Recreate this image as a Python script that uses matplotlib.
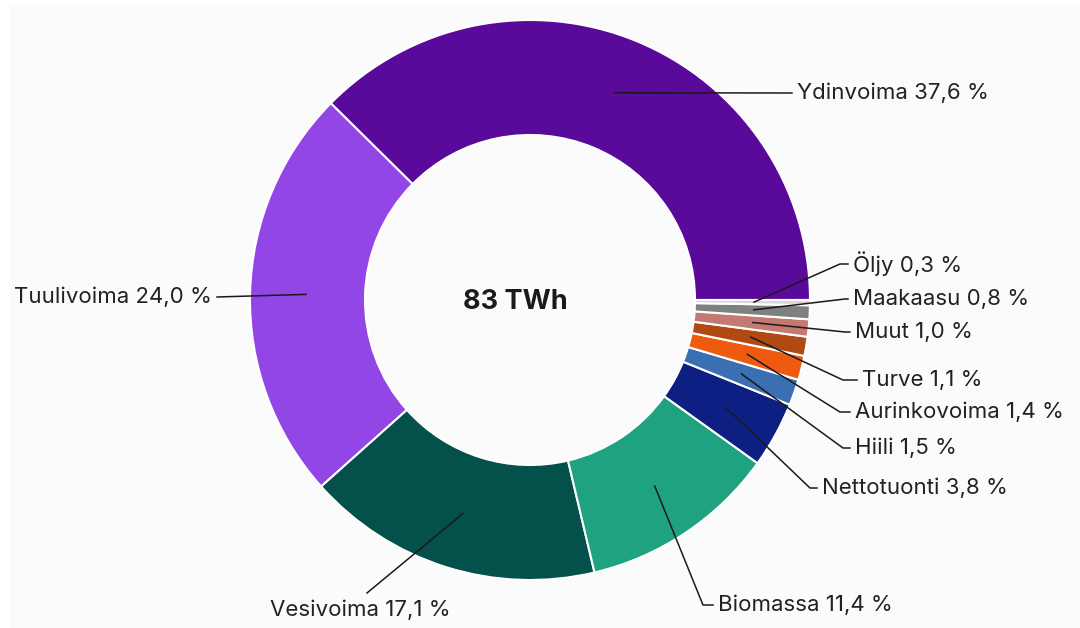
import numpy as np
import matplotlib
matplotlib.use("Agg")
import matplotlib.pyplot as plt
from matplotlib.patches import Rectangle

# --- data ---
labels = ["Ydinvoima", "Tuulivoima", "Vesivoima", "Biomassa", "Nettotuonti", "Hiili",
          "Aurinkovoima", "Turve", "Muut", "Maakaasu", "Öljy"]
shares = [37.6, 24.0, 17.1, 11.4, 3.8, 1.5, 1.4, 1.1, 1.0, 0.8, 0.3]
colors = ["#5a0a9a", "#9246e6", "#03514a", "#1fa27f", "#0d1f82", "#3a70b2",
          "#ee5a10", "#b04a12", "#c47a72", "#7f8080", "#d9d6e2"]
total_label = "83 TWh"

# label layout in pixel coords (y from top): elbow x, elbow y, text x, alignment
label_pos = {
    "Ydinvoima":    (791, 93, 797, "left"),
    "Tuulivoima":   (218, 297, 212, "right"),
    "Vesivoima":    (367, 593, 270, "left"),
    "Biomassa":     (703, 605, 718, "left"),
    "Nettotuonti":  (810, 488, 822, "left"),
    "Hiili":        (843, 448, 855, "left"),
    "Aurinkovoima": (840, 412, 855, "left"),
    "Turve":        (843, 380, 862, "left"),
    "Muut":         (845, 332, 855, "left"),
    "Maakaasu":     (845, 299, 853, "left"),
    "Öljy":         (840, 264, 853, "left"),
}

W, H = 1080, 628
cx, cy, R = 530, 300, 280

plt.rcParams['font.family'] = ['Inter', 'DejaVu Sans']

fig = plt.figure(figsize=(W / 100, H / 100), dpi=100)
fig.patch.set_facecolor("white")
ax = fig.add_axes([0, 0, 1, 1])

wedges, _ = ax.pie(shares, colors=colors, startangle=0, counterclock=True,
                   center=(cx, H - cy), radius=R,
                   wedgeprops=dict(width=115, edgecolor="white", linewidth=1.5))
ax.set_xlim(0, W)
ax.set_ylim(0, H)
ax.set_aspect("equal")
ax.axis("off")
ax.add_patch(Rectangle((9, 0), W - 9, H - 5, facecolor="#fbfbfb", edgecolor="none", zorder=0))

ax.text(cx - 15, H - 302, total_label, ha="center", va="center", fontsize=19.5,
        fontweight="bold", color="#1a1a1a")

for w, name, val in zip(wedges, labels, shares):
    mid = np.deg2rad((w.theta1 + w.theta2) / 2)
    x0 = cx + 0.8 * R * np.cos(mid)
    y0 = H - cy + 0.8 * R * np.sin(mid)
    ex, ey, tx, ha = label_pos[name]
    ey = H - ey
    xs = [x0, ex]
    ys = [y0, ey]
    if ha == "left" and name != "Vesivoima":
        xs.append(tx - 5)
        ys.append(ey)
    elif ha == "right":
        xs[1] = tx + 5
    ax.plot(xs, ys, color="#1a1a1a", lw=1.1, zorder=5)
    ty = ey if name != "Vesivoima" else ey - 17
    ax.text(tx, ty, f"{name} {val:.1f} %".replace(".", ","), ha=ha, va="center",
            fontsize=16, color="#222222")

fig.savefig("out.png", dpi=100, facecolor=fig.get_facecolor())
